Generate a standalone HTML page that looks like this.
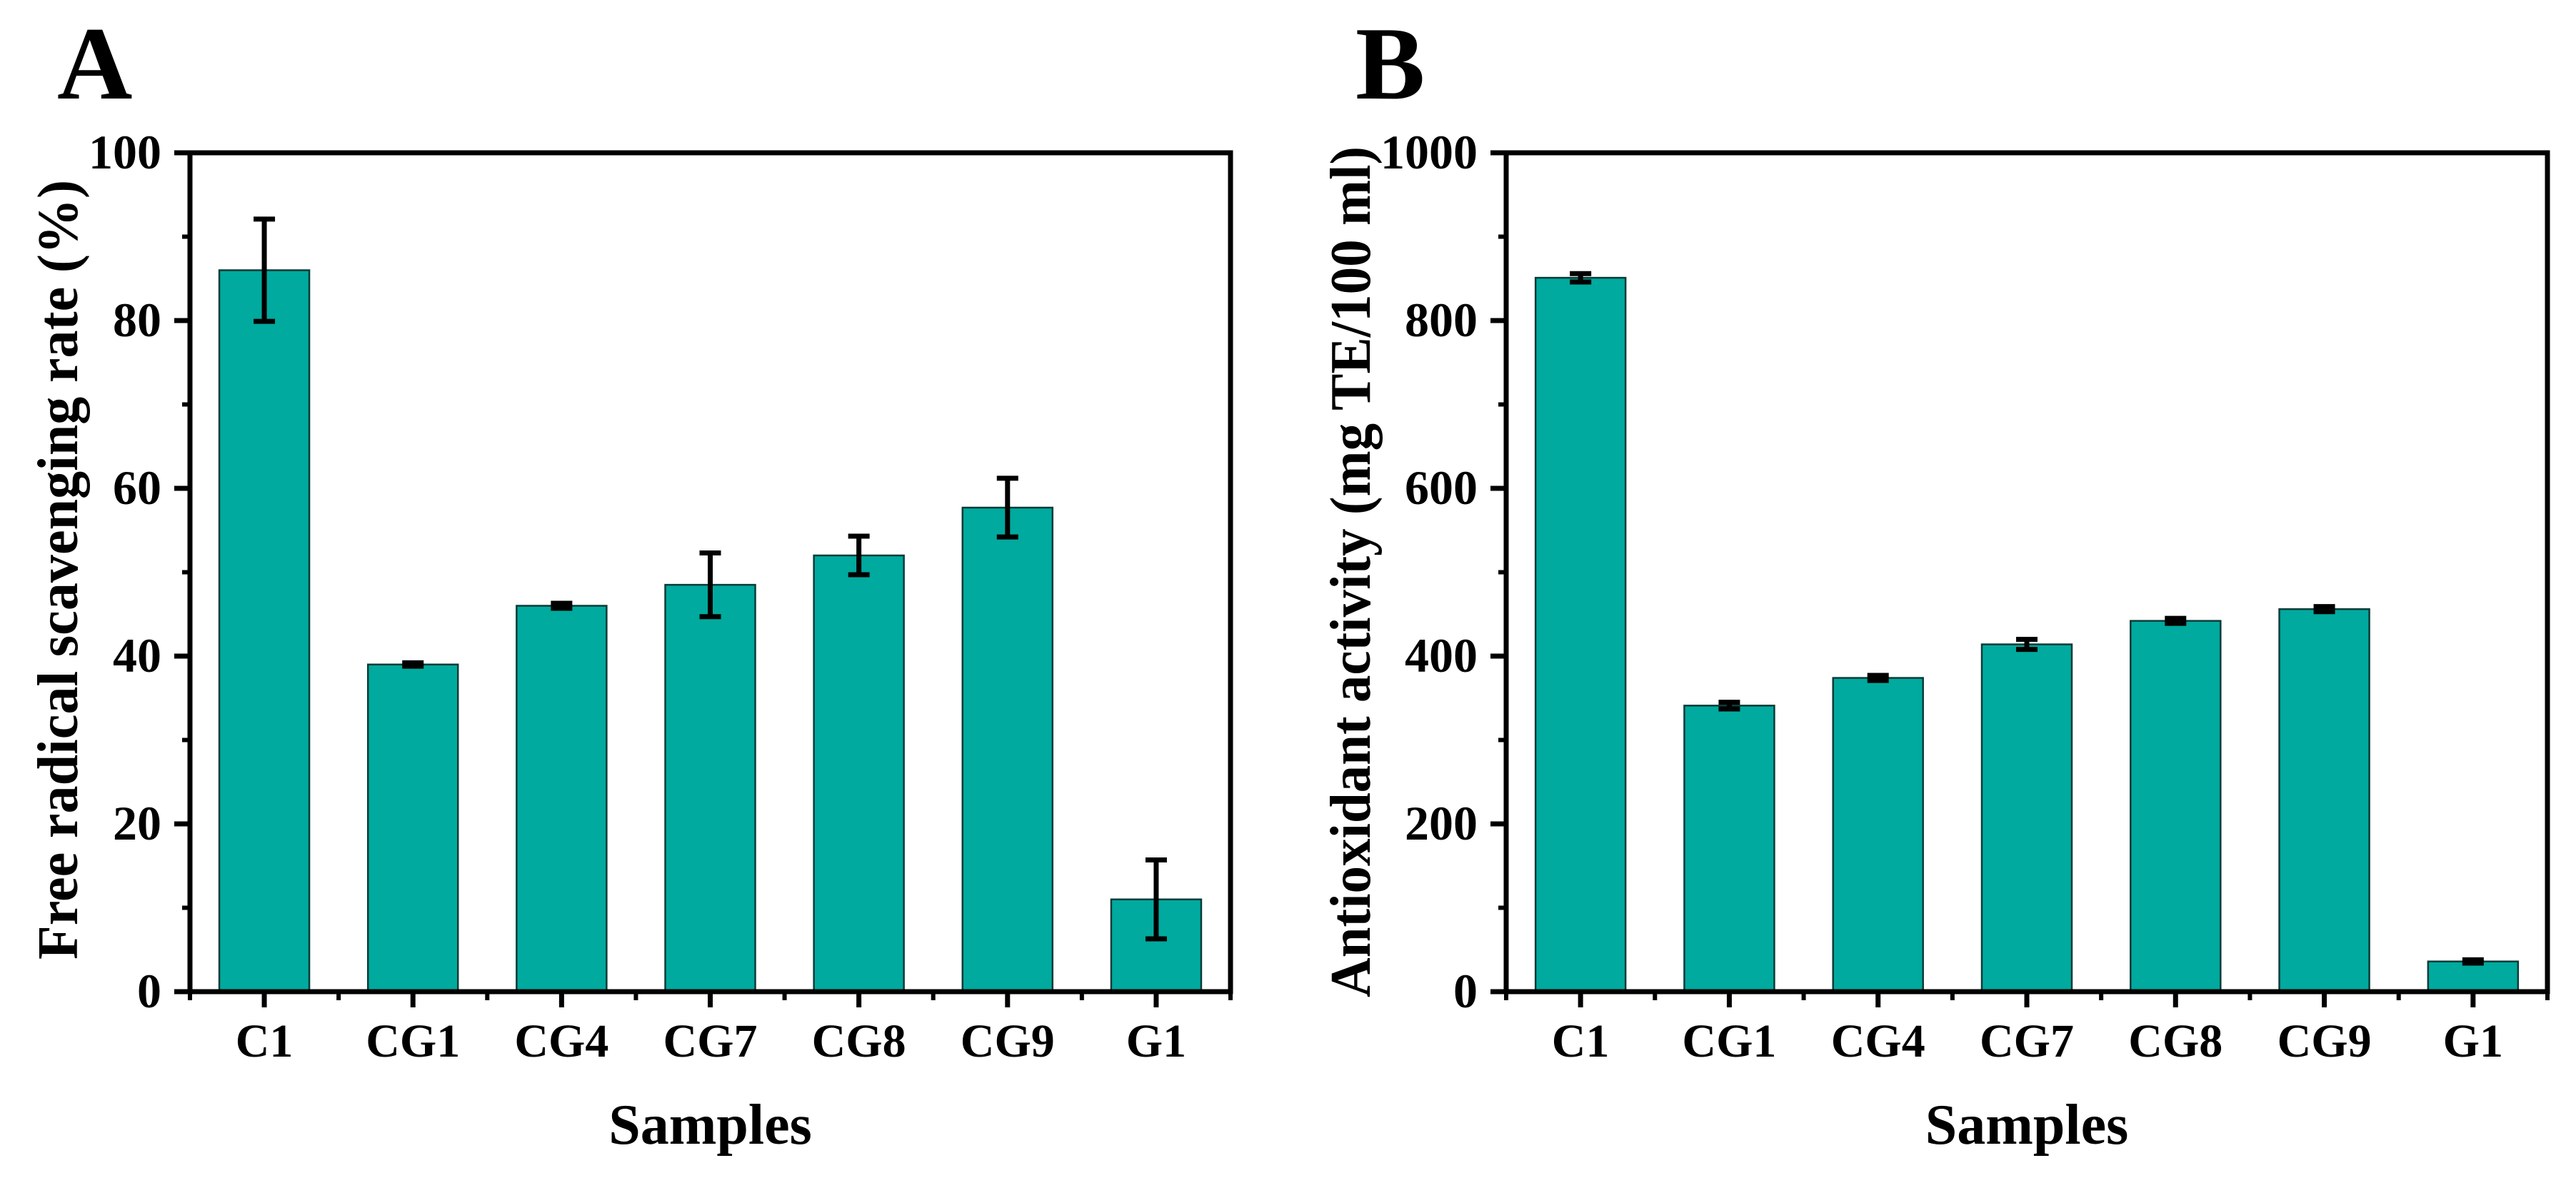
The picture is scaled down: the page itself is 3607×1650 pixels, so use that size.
<!DOCTYPE html>
<html><head><meta charset="utf-8"><style>
html,body{margin:0;padding:0;background:#fff;}
svg{display:block;font-family:"Liberation Serif",serif;font-weight:bold;}
</style></head><body>
<svg id="chart" width="3607" height="1650" viewBox="0 0 3607 1650" xmlns="http://www.w3.org/2000/svg">
<rect width="3607" height="1650" fill="#fff"/>
</svg>
<script>
const categories = ["C1","CG1","CG4","CG7","CG8","CG9","G1"];
const valuesA = [86, 39, 46, 48.5, 52, 57.7, 11];
const errorsA = [6.1, 0.2, 0.3, 3.8, 2.3, 3.5, 4.7];
const valuesB = [851, 341, 374, 414, 442, 456, 36];
const errorsB = [5, 4, 3, 6, 3, 3, 2];
const ticksA = [0, 20, 40, 60, 80, 100];
const ticksB = [0, 200, 400, 600, 800, 1000];

const NS = "http://www.w3.org/2000/svg";
const svg = document.getElementById('chart');
function mk(tag, attrs, parent){
  const e = document.createElementNS(NS, tag);
  for (const k in attrs) e.setAttribute(k, attrs[k]);
  (parent||svg).appendChild(e); return e;
}

function panel(p){
  const g = mk('g', {});
  
  
  const top = 214, bottom = 1389, L = p.left, R = p.right;
  const yS = v => bottom - (v / p.max) * (bottom - top);
  const step = (R - L) / categories.length;
  const xS = i => L + step * (i + 0.5);
  const barW = 126;

  // bars
  categories.forEach((c, i) => {
    const v = p.values[i];
    const b = mk('rect', {x: xS(i) - barW/2, y: yS(v), width: barW, height: bottom - yS(v), fill: '#00aa9e', stroke: '#0b3b37', 'stroke-width': 2.5}, g);
    
    
    const e = p.errors[i];
    const eg = mk('g', {stroke: '#000', 'stroke-width': 7}, g);
    
    
    mk('line', {x1: xS(i), x2: xS(i), y1: yS(v + e), y2: yS(v - e)}, eg);
    mk('line', {x1: xS(i) - 15, x2: xS(i) + 15, y1: yS(v + e), y2: yS(v + e)}, eg);
    mk('line', {x1: xS(i) - 15, x2: xS(i) + 15, y1: yS(v - e), y2: yS(v - e)}, eg);
  });

  // frame
  const fr = mk('rect', {x: L, y: top, width: R - L, height: bottom - top, fill: 'none', stroke: '#000', 'stroke-width': 7}, g);
  
  

  // y ticks
  const yAxis = mk('g', {}, g);
  
  
  p.ticks.forEach((t, k) => {
    mk('line', {x1: L - 22, x2: L, y1: yS(t), y2: yS(t), stroke: '#000', 'stroke-width': 7}, yAxis);
    const lb = mk('text', {x: L - 40, y: yS(t) + 22, 'text-anchor': 'end', 'font-size': 68}, yAxis);
    lb.textContent = t;
    
    
    if (k < p.ticks.length - 1) {
      const m = (t + p.ticks[k+1]) / 2;
      mk('line', {x1: L - 11, x2: L, y1: yS(m), y2: yS(m), stroke: '#000', 'stroke-width': 6}, yAxis);
    }
  });

  // x ticks
  const xAxis = mk('g', {}, g);
  
  
  categories.forEach((c, i) => {
    mk('line', {x1: xS(i), x2: xS(i), y1: bottom, y2: bottom + 22, stroke: '#000', 'stroke-width': 7}, xAxis);
    const lb = mk('text', {x: xS(i), y: 1480, 'text-anchor': 'middle', 'font-size': 66}, xAxis);
    lb.textContent = c;
    
    
  });
  for (let i = 0; i <= categories.length; i++) {
    const x = L + step * i;
    mk('line', {x1: x, x2: x, y1: bottom, y2: bottom + 12, stroke: '#000', 'stroke-width': 6}, xAxis);
  }

  const xt = mk('text', {x: (L + R) / 2, y: 1602, 'text-anchor': 'middle', 'font-size': 80}, g);
  xt.textContent = 'Samples';
  
  

  const yt = mk('text', {x: 0, y: 0, 'text-anchor': 'middle', 'font-size': 80, textLength: p.titleLen, lengthAdjust: 'spacingAndGlyphs', transform: `translate(${p.titleX},${p.titleY}) rotate(-90)`}, g);
  yt.textContent = p.title;
  
  

  const pl = mk('text', {x: p.letterX, y: 138, 'font-size': 146}, g);
  pl.textContent = p.letter;
  
  
}

panel({name: 'panel-a', left: 266, right: 1723, max: 100, values: valuesA, errors: errorsA, ticks: ticksA,
  title: 'Free radical scavenging rate (%)', titleX: 108, titleY: 798, titleLen: 1092, letter: 'A', letterX: 80});
panel({name: 'panel-b', left: 2109, right: 3567, max: 1000, values: valuesB, errors: errorsB, ticks: ticksB,
  title: 'Antioxidant activity (mg TE/100 ml)', titleX: 1918, titleY: 801, titleLen: 1192, letter: 'B', letterX: 1898});
</script>
</body></html>
